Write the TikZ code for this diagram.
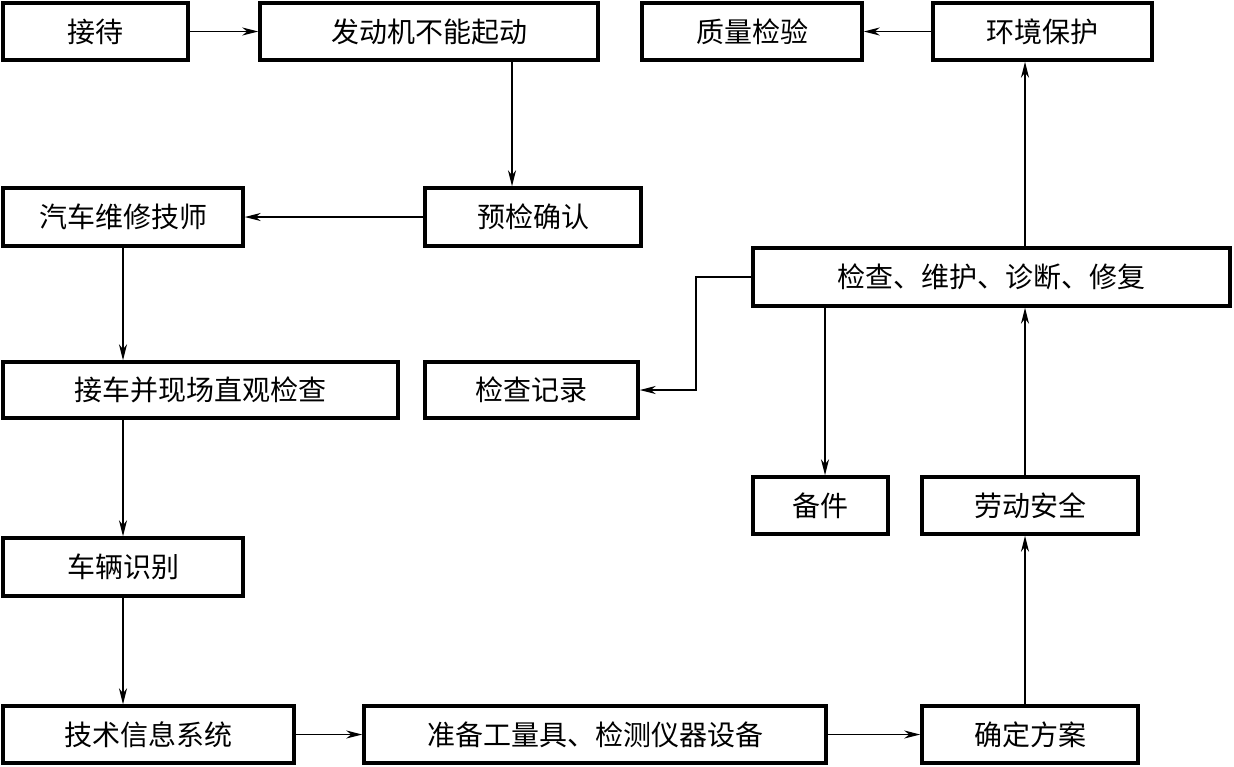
\documentclass[tikz,border=0pt]{standalone}
\usepackage{fontspec}
\newfontfamily\cjk{Noto Sans CJK SC}
\usetikzlibrary{arrows.meta}
\begin{document}
\begin{tikzpicture}[x=1pt,y=-1pt,
  box/.style={draw=black, line width=3.5pt, fill=white, inner sep=0pt, font=\cjk\fontsize{28}{32}\selectfont, align=center},
  arr/.style={line width=1.3pt, -{Stealth[length=16pt,width=8pt,inset=5pt]}},
  ln/.style={line width=1.3pt}]
\useasboundingbox (0,0) rectangle (1234,766);
\fill[white] (0,0) rectangle (1234,766);
\node[box, minimum width=185pt, minimum height=57pt] (jiedai) at (95.5,31.5) {接待};
\node[box, minimum width=338pt, minimum height=57pt] (fadong) at (429,31.5) {发动机不能起动};
\node[box, minimum width=220pt, minimum height=57pt] (zhiliang) at (752,31.5) {质量检验};
\node[box, minimum width=219pt, minimum height=57pt] (huanjing) at (1042.5,31.5) {环境保护};
\node[box, minimum width=240pt, minimum height=58pt] (jishi) at (123,217) {汽车维修技师};
\node[box, minimum width=216pt, minimum height=58pt] (yujian) at (533,217) {预检确认};
\node[box, minimum width=477pt, minimum height=58pt] (jiancha) at (991.5,277) {检查、维护、诊断、修复};
\node[box, minimum width=395pt, minimum height=56pt] (jieche) at (200.5,390) {接车并现场直观检查};
\node[box, minimum width=213pt, minimum height=56pt] (jilu) at (531.5,390) {检查记录};
\node[box, minimum width=135pt, minimum height=57pt] (beijian) at (820.5,505.5) {备件};
\node[box, minimum width=216pt, minimum height=57pt] (laodong) at (1030,505.5) {劳动安全};
\node[box, minimum width=240pt, minimum height=58pt] (shibie) at (123,567) {车辆识别};
\node[box, minimum width=291pt, minimum height=57pt] (xinxi) at (148.5,734.5) {技术信息系统};
\node[box, minimum width=462pt, minimum height=57pt] (zhunbei) at (595,734.5) {准备工量具、检测仪器设备};
\node[box, minimum width=216pt, minimum height=57pt] (fangan) at (1030,734.5) {确定方案};
\coordinate (c1) at (512,0);
\coordinate (c2) at (1025,0);
\coordinate (c3) at (825,0);
\coordinate (c4) at (696,0);
\draw[arr] (jiedai.east) -- (fadong.west);
\draw[arr] (fadong.south -| c1) -- (yujian.north -| c1);
\draw[arr] (yujian.west) -- (jishi.east);
\draw[arr] (jishi.south) -- (jishi.south |- jieche.north);
\draw[arr] (shibie.north |- jieche.south) -- (shibie.north);
\draw[arr] (shibie.south) -- (shibie.south |- xinxi.north);
\draw[arr] (xinxi.east) -- (zhunbei.west);
\draw[arr] (zhunbei.east) -- (fangan.west);
\draw[arr] (fangan.north -| c2) -- (laodong.south -| c2);
\draw[arr] (laodong.north -| c2) -- (jiancha.south -| c2);
\draw[arr] (jiancha.north -| c2) -- (huanjing.south -| c2);
\draw[arr] (huanjing.west) -- (zhiliang.east);
\draw[arr] (jiancha.west) -| (c4 |- jilu.east) -- (jilu.east);
\draw[arr] (jiancha.south -| c3) -- (beijian.north -| c3);
\end{tikzpicture}
\end{document}
